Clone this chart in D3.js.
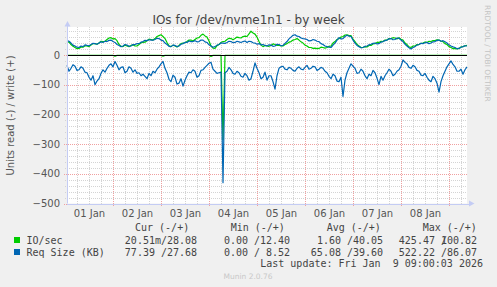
<!DOCTYPE html>
<html>
<head>
<meta charset="utf-8">
<script src="https://cdn.jsdelivr.net/npm/d3@7"></script>
<style>
  html, body { margin: 0; padding: 0; background: #f0f0f0; }
  svg { display: block; }
</style>
</head>
<body>
<div id="container"></div>
<script>
// time window of the week graph (UTC); hourly samples spread over it
var startTime = Date.UTC(2026, 0, 1, 1, 0, 0);
var endTime = Date.UTC(2026, 0, 9, 9, 0, 0);

// IO/sec read (drawn negative)
var ioRead = [
  1.5,1.5,1.5,1.5,1.5,1.5,1.5,1.5,1.5,1.5,
  1.5,1.5,1.5,1.5,1.5,1.5,1.5,1.5,1.5,1.5,
  1.5,1.5,1.5,1.5,4,1.5,1.5,1.5,1.5,1.5,
  1.5,1.5,1.5,1.5,1.5,1.5,1.5,1.5,1.5,1.5,
  1.5,1.5,1.5,1.5,1.5,1.5,1.5,1.5,4,1.5,
  1.5,1.5,1.5,1.5,1.5,1.5,1.5,1.5,1.5,1.5,
  1.5,1.5,1.5,1.5,1.5,1.5,1.5,1.5,1.5,1.5,
  1.5,1.5,5,1.5,1.5,1.5,1.5,1.5,285,1.5,
  1.5,1.5,1.5,1.5,1.5,1.5,1.5,1.5,1.5,1.5,
  1.5,1.5,1.5,1.5,1.5,1.5,1.5,1.5,1.5,1.5,
  1.5,1.5,1.5,1.5,1.5,1.5,1.5,1.5,1.5,1.5,
  1.5,1.5,1.5,1.5,1.5,1.5,1.5,1.5,1.5,1.5,
  1.5,1.5,1.5,1.5,1.5,1.5,1.5,1.5,1.5,1.5,
  1.5,1.5,1.5,1.5,1.5,1.5,1.5,1.5,1.5,1.5,
  1.5,1.5,1.5,1.5,1.5,1.5,1.5,1.5,1.5,1.5,
  1.5,1.5,1.5,1.5,1.5,1.5,1.5,1.5,1.5,1.5,
  1.5,1.5,1.5,1.5,1.5,1.5,1.5,1.5,1.5,1.5,
  1.5,1.5,1.5,1.5,1.5,1.5,1.5,1.5,1.5,1.5,
  1.5,1.5,1.5,1.5,1.5,1.5,1.5,1.5,1.5,1.5,
  1.5,1.5,1.5,1.5,1.5,1.5,1.5,1.5,1.5,1.5,
  1.5
];
// IO/sec write
var ioWrite = [
  42,44,35,29,25,21,22,27,26,31,
  30,28,33,38,38,36,40,46,45,46,
  52,57,58,54,55,48,35,29,28,33,
  30,28,32,34,30,30,35,41,42,43,
  48,53,52,50,55,62,65,68,62,55,
  42,31,28,33,30,27,32,38,40,41,
  45,50,50,47,52,57,58,66,70,64,
  60,47,30,23,22,31,35,42,45,46,
  52,56,55,51,55,60,58,57,62,63,
  62,71,80,74,70,60,45,33,28,32,
  30,29,32,37,35,32,33,30,30,35,
  38,43,45,50,52,55,50,44,40,33,
  30,25,25,22,23,21,22,26,25,23,
  25,29,30,40,45,52,55,60,62,67,
  68,65,65,53,45,35,30,25,25,28,
  27,32,32,37,38,42,42,46,45,50,
  50,55,55,58,57,54,58,53,50,40,
  35,27,25,30,30,35,35,39,40,43,
  42,46,45,48,48,51,50,46,45,38,
  35,28,25,21,22,20,22,27,28,31,
  32
];
// Req Size (KB) read (drawn negative)
var reqRead = [
  35,55,45,33,38,52,50,40,45,58,
  60,75,85,70,100,88,80,62,50,58,
  45,35,30,40,22,35,50,42,40,60,
  55,40,45,58,50,62,60,70,65,72,
  80,62,70,55,60,48,40,30,22,45,
  60,82,90,68,75,98,95,80,105,85,
  70,58,60,50,55,75,70,52,50,42,
  35,28,25,48,55,62,60,58,430,60,
  55,42,50,62,65,55,60,72,75,62,
  70,85,80,55,27,45,60,80,75,58,
  85,70,70,90,115,70,45,40,38,48,
  50,42,45,52,55,45,40,48,50,42,
  35,48,45,38,40,52,48,42,45,55,
  60,72,80,65,70,88,90,75,140,85,
  60,45,30,38,45,62,60,48,55,70,
  80,65,70,52,60,78,100,72,85,70,
  60,48,55,70,65,55,50,38,17,25,
  30,42,45,35,40,52,55,68,70,62,
  75,85,90,72,80,95,125,90,70,55,
  40,30,20,32,40,55,55,48,65,50,
  40
];
// Req Size (KB) write
var reqWrite = [
  48,46,40,33,30,26,25,30,28,34,
  32,31,35,39,38,36,40,44,42,46,
  45,49,50,45,42,35,32,28,30,35,
  33,29,30,35,35,38,38,43,45,49,
  48,51,50,50,52,56,55,50,48,40,
  35,29,28,33,32,28,30,36,38,42,
  42,47,45,45,48,44,45,50,50,44,
  42,34,30,26,28,33,35,40,40,39,
  42,46,45,41,42,46,44,42,45,47,
  42,46,45,41,40,36,38,34,35,32,
  30,34,33,29,30,36,35,31,32,39,
  45,54,60,66,68,63,62,57,55,54,
  52,47,48,52,50,46,45,38,35,30,
  28,26,25,33,40,50,58,54,55,62,
  66,63,62,50,40,32,28,24,25,29,
  30,34,36,39,40,37,38,43,45,48,
  50,54,55,51,52,57,56,50,45,36,
  30,24,20,25,28,33,35,39,38,41,
  42,38,40,44,45,49,50,46,48,44,
  40,34,30,27,25,21,22,26,28,31,
  30
];

var yLabelTicks = [-500, -400, -300, -200, -100, 0];

var seriesNames = ["IO/sec", "Req Size (KB)"];
var seriesColors = ["#00cc00", "#0066b3"];
var colHeaders = ["Cur (-/+)", "Min (-/+)", "Avg (-/+)", "Max (-/+)"];
var curRead = ["20.51m", "77.39"];
var curWrite = ["28.08", "27.68"];
var minRead = ["0.00", "0.00"];
var minWrite = ["12.40", "8.52"];
var avgRead = ["1.60", "65.08"];
var avgWrite = ["40.05", "39.60"];
var maxRead = ["425.47", "522.22"];
var maxWrite = ["100.82", "86.07"];
var lastUpdate = "Last update: Fri Jan  9 09:00:03 2026";

(function() {
  var W = 497, H = 287;
  var plotL = 67, plotR = 467, plotT = 27, plotB = 203.5;

  var svg = d3
    .select("#container")
    .append("svg")
    .attr("width", W)
    .attr("height", H)
    .style("background-color", "#f0f0f0");

  var x = d3.scaleUtc()
    .domain([new Date(startTime), new Date(endTime)])
    .range([plotL, plotR]);
  var y = d3.scaleLinear()
    .domain([-500, 94])
    .range([plotB, plotT]);

  // canvas
  svg.append("rect")
    .attr("x", plotL).attr("y", plotT)
    .attr("width", plotR - plotL).attr("height", plotB - plotT)
    .attr("fill", "#fff");

  function px(v) { return Math.round(v) + 0.5; }

  // horizontal grid
  var minorY = d3.range(-480, 94, 20).filter(function(v) { return v % 100 !== 0; });
  svg.append("g").selectAll("line").data(minorY).enter().append("line")
    .attr("x1", plotL - 2).attr("x2", plotR)
    .attr("y1", function(d) { return px(y(d)); })
    .attr("y2", function(d) { return px(y(d)); })
    .attr("stroke", "#d4d4d4").attr("stroke-dasharray", "1,1");
  svg.append("g").selectAll("line").data(yLabelTicks).enter().append("line")
    .attr("x1", plotL - 3).attr("x2", plotR)
    .attr("y1", function(d) { return px(y(d)); })
    .attr("y2", function(d) { return px(y(d)); })
    .attr("stroke", "#f0a0a0").attr("stroke-dasharray", "1,1");

  // vertical grid
  var minorX = d3.utcHour.every(6).range(new Date(startTime), new Date(endTime))
    .filter(function(d) { return d.getUTCHours() !== 0; });
  var majorX = d3.utcDay.range(new Date(startTime), new Date(endTime));
  svg.append("g").selectAll("line").data(minorX).enter().append("line")
    .attr("x1", function(d) { return px(x(d)); })
    .attr("x2", function(d) { return px(x(d)); })
    .attr("y1", plotT).attr("y2", plotB + 1.5)
    .attr("stroke", "#d4d4d4").attr("stroke-dasharray", "1,1");
  svg.append("g").selectAll("line").data(majorX).enter().append("line")
    .attr("x1", function(d) { return px(x(d)); })
    .attr("x2", function(d) { return px(x(d)); })
    .attr("y1", plotT).attr("y2", plotB + 2.5)
    .attr("stroke", "#f0a0a0").attr("stroke-dasharray", "1,1");

  // data lines, samples spread evenly over the window
  function drawLine(values, sign, color) {
    var step = (endTime - startTime) / (values.length - 1);
    var line = d3.line()
      .x(function(d, i) { return x(new Date(startTime + i * step)); })
      .y(function(d) { return y(sign * d); });
    svg.append("path")
      .datum(values)
      .attr("d", line)
      .attr("fill", "none")
      .attr("stroke", color)
      .attr("stroke-width", 1.2)
      .attr("stroke-linejoin", "round");
  }
  drawLine(ioRead, -1, seriesColors[0]);
  drawLine(ioWrite, 1, seriesColors[0]);
  drawLine(reqRead, -1, seriesColors[1]);
  drawLine(reqWrite, 1, seriesColors[1]);

  // zero rule
  svg.append("line")
    .attr("x1", plotL).attr("x2", plotR)
    .attr("y1", px(y(0))).attr("y2", px(y(0)))
    .attr("stroke", "#000").attr("stroke-width", 1);

  // axis lines and arrows
  var axisColor = "#c4ccf4";
  svg.append("line")
    .attr("x1", plotL + 0.5).attr("x2", plotL + 0.5)
    .attr("y1", plotB).attr("y2", plotT - 3)
    .attr("stroke", axisColor);
  svg.append("line")
    .attr("x1", plotL).attr("x2", plotR + 2)
    .attr("y1", px(plotB)).attr("y2", px(plotB))
    .attr("stroke", axisColor);
  svg.append("polygon")
    .attr("points", "64.5,26.5 70.5,26.5 67.5,21")
    .attr("fill", axisColor);
  svg.append("polygon")
    .attr("points", "469,200.5 469,206.5 474.5,203.5")
    .attr("fill", axisColor);

  // y axis labels
  var yAxis = svg.append("g")
    .attr("transform", "translate(" + plotL + ",0)")
    .call(d3.axisLeft(y).tickValues(yLabelTicks).tickSize(0).tickPadding(7));
  yAxis.select(".domain").remove();
  yAxis.selectAll("text")
    .attr("fill", "#555")
    .style("font-family", "DejaVu Sans")
    .style("font-size", "10px");

  // x axis labels at noon of each day
  var labelDays = d3.utcDay.range(d3.utcDay.floor(new Date(startTime)), d3.utcDay.floor(new Date(endTime)))
    .map(function(d) { return d3.utcHour.offset(d, 12); });
  var xAxis = svg.append("g")
    .attr("transform", "translate(0," + plotB + ")")
    .call(d3.axisBottom(x).tickValues(labelDays).tickSize(0).tickPadding(6)
      .tickFormat(d3.utcFormat("%d %b")));
  xAxis.select(".domain").remove();
  xAxis.selectAll("text")
    .attr("fill", "#555")
    .style("font-family", "DejaVu Sans")
    .style("font-size", "10px");

  // title
  svg.append("text")
    .attr("x", 248.5).attr("y", 24)
    .attr("text-anchor", "middle")
    .attr("fill", "#444")
    .style("font-family", "DejaVu Sans")
    .style("font-size", "12px")
    .text("IOs for /dev/nvme1n1 - by week");

  // vertical axis title
  svg.append("text")
    .attr("transform", "translate(14,115.5) rotate(-90)")
    .attr("text-anchor", "middle")
    .attr("fill", "#555")
    .style("font-family", "DejaVu Sans")
    .style("font-size", "10px")
    .text("Units read (-) / write (+)");

  // rrdtool watermark
  svg.append("text")
    .attr("transform", "translate(485,5) rotate(90)")
    .attr("fill", "#c4c4c4")
    .style("font-family", "DejaVu Sans")
    .style("font-size", "7.5px")
    .text("RRDTOOL / TOBI OETIKER");

  // legend
  var mono = function(sel) {
    return sel.style("font-family", "DejaVu Sans Mono")
      .style("font-size", "10px")
      .style("white-space", "pre")
      .attr("fill", "#444");
  };
  var headerX = [135, 230.7, 326.7, 422.7];
  colHeaders.forEach(function(h, i) {
    mono(svg.append("text").attr("x", headerX[i]).attr("y", 231).text(h));
  });

  var colEnd = [197, 290, 383, 477];
  var readCols = [curRead, minRead, avgRead, maxRead];
  var writeCols = [curWrite, minWrite, avgWrite, maxWrite];
  var rowY = [243.5, 255.5];

  seriesNames.forEach(function(name, r) {
    svg.append("rect")
      .attr("x", 14).attr("y", rowY[r] - 6.5)
      .attr("width", 6).attr("height", 6)
      .attr("fill", seriesColors[r]);
    mono(svg.append("text").attr("x", 26.5).attr("y", rowY[r]).text(name));
    readCols.forEach(function(col, c) {
      var rd = col[r];
      var txt = rd + (/\d$/.test(rd) ? " " : "") + "/";
      mono(svg.append("text")
        .attr("x", colEnd[c] - 30).attr("y", rowY[r])
        .attr("text-anchor", "end").text(txt));
      mono(svg.append("text")
        .attr("x", colEnd[c]).attr("y", rowY[r])
        .attr("text-anchor", "end").text(writeCols[c][r]));
    });
  });

  mono(svg.append("text")
    .attr("x", 483).attr("y", 267)
    .attr("text-anchor", "end")
    .text(lastUpdate));

  svg.append("text")
    .attr("x", 248).attr("y", 279)
    .attr("text-anchor", "middle")
    .attr("fill", "#c8c8c8")
    .style("font-family", "DejaVu Sans")
    .style("font-size", "7.5px")
    .text("Munin 2.0.76");
})();
</script>
</body>
</html>
